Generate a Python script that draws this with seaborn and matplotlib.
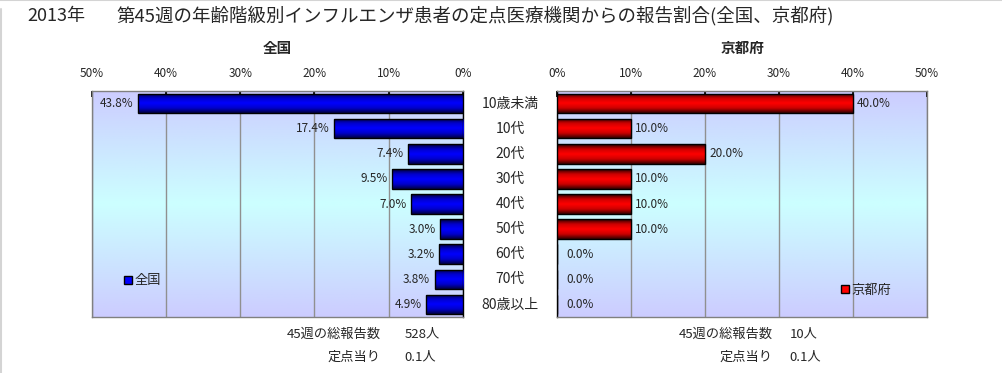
import numpy as np
import pandas as pd
import seaborn as sns
import matplotlib.pyplot as plt
from matplotlib.patches import Patch
from matplotlib.lines import Line2D
from matplotlib.ticker import PercentFormatter
from matplotlib.colors import LinearSegmentedColormap
import matplotlib.transforms as mtransforms

# データ
ages = ["10歳未満", "10代", "20代", "30代", "40代", "50代", "60代", "70代", "80歳以上"]
zenkoku = [43.8, 17.4, 7.4, 9.5, 7.0, 3.0, 3.2, 3.8, 4.9]
kyoto = [40.0, 10.0, 20.0, 10.0, 10.0, 10.0, 0.0, 0.0, 0.0]
total_zenkoku = "528人"
total_kyoto = "10人"
per_point_zenkoku = "0.1人"
per_point_kyoto = "0.1人"

sns.set_theme(style="white")
plt.rcParams["font.family"] = ["Noto Sans CJK JP", "DejaVu Sans"]

df = pd.DataFrame({"age": ages, "全国": zenkoku, "京都府": kyoto})

fig = plt.figure(figsize=(10.02, 3.73), dpi=100)
ax1 = fig.add_axes([0.0918, 0.150, 0.370, 0.606])
ax2 = fig.add_axes([0.5559, 0.150, 0.369, 0.606])

# 背景グラデーション（縦方向）
bg = LinearSegmentedColormap.from_list("bg", ["#ccccff", "#ccffff", "#ccccff"])
grad = np.linspace(0, 1, 256).reshape(-1, 1)

def bar_grad(ax, cmap):
    # 棒を立体風のグラデーションにする
    for p in list(ax.patches):
        x0, y0 = p.get_x(), p.get_y()
        w, h = p.get_width(), p.get_height()
        if w == 0:
            continue
        im = ax.imshow(grad, cmap=cmap, aspect="auto", extent=(x0, x0 + w, y0 + h, y0),
                       zorder=3, interpolation="bicubic")
        im.set_clip_path(p)
        p.set_facecolor("none")
        p.set_zorder(4)

blue = LinearSegmentedColormap.from_list("b", ["#000033", "#0000cc", "#0000ff", "#0000cc", "#000040"])
red = LinearSegmentedColormap.from_list("r", ["#200000", "#cc0000", "#ff0000", "#cc0000", "#300000"])

for ax, col, cmap, fc in [(ax1, "全国", blue, "#0000ff"), (ax2, "京都府", red, "#ff0000")]:
    ax.imshow(grad, cmap=bg, aspect="auto", extent=(0, 1, 0, 1),
              transform=ax.transAxes, zorder=0)
    sns.barplot(data=df, x=col, y="age", orient="h", color=fc, width=0.78,
                edgecolor="black", linewidth=1, ax=ax, saturation=1)
    bar_grad(ax, cmap)
    ax.set_ylim(8.5, -0.5)
    ax.xaxis.tick_top()
    ax.xaxis.set_major_formatter(PercentFormatter(decimals=0))
    ax.set_xticks([0, 10, 20, 30, 40, 50])
    ax.tick_params(axis="x", direction="in", length=4, pad=8, labelsize=8.5, color="black")
    ax.tick_params(axis="y", left=False, right=False, labelleft=False)
    ax.set_xlabel("")
    ax.set_ylabel("")
    ax.grid(axis="x", color="#909090", linewidth=1, zorder=1)
    ax.set_axisbelow(True)
    for s in ax.spines.values():
        s.set_color("#808080")
        s.set_linewidth(1)

ax1.set_xlim(50, 0)
ax2.set_xlim(0, 50)
ax1.spines["right"].set_color("black")
ax2.spines["left"].set_color("black")

# 数値ラベル
for i, v in enumerate(zenkoku):
    ax1.text(v + 0.6, i, f"{v:.1f}%", ha="right", va="center", fontsize=8.5, zorder=5)
for i, v in enumerate(kyoto):
    ax2.text(v + (0.6 if v > 0 else 1.3), i, f"{v:.1f}%", ha="left", va="center", fontsize=8.5, zorder=5)

# 年齢階級ラベル（中央）
tr = mtransforms.blended_transform_factory(fig.transFigure, ax2.transData)
for i, a in enumerate(ages):
    fig.text(0.509, 0, a, transform=tr, ha="center", va="center", fontsize=10).set_y(i)

# 凡例
ax1.legend(handles=[Patch(facecolor="#0000ff", edgecolor="black", label="全国")],
           loc="center left", bbox_to_anchor=(0.055, 0.16), frameon=False,
           handlelength=0.6, handleheight=0.6, handletextpad=0.2, fontsize=9.5)
ax2.legend(handles=[Patch(facecolor="#ff0000", edgecolor="black", label="京都府")],
           loc="center left", bbox_to_anchor=(0.735, 0.12), frameon=False,
           handlelength=0.6, handleheight=0.6, handletextpad=0.2, fontsize=9.5)

# タイトル
fig.text(0.027, 0.958, "2013年", ha="left", va="center", fontsize=13)
fig.text(0.116, 0.958, "第45週の年齢階級別インフルエンザ患者の定点医療機関からの報告割合(全国、京都府)",
         ha="left", va="center", fontsize=13.3)
fig.text(0.277, 0.871, "全国", ha="center", va="center", fontsize=10.5, fontweight="bold")
fig.text(0.741, 0.871, "京都府", ha="center", va="center", fontsize=10.5, fontweight="bold")

# 下部の報告数
fs = 9.5
fig.text(0.380, 0.104, "45週の総報告数", ha="right", va="center", fontsize=fs)
fig.text(0.404, 0.104, total_zenkoku, ha="left", va="center", fontsize=fs)
fig.text(0.380, 0.043, "定点当り", ha="right", va="center", fontsize=fs)
fig.text(0.404, 0.043, per_point_zenkoku, ha="left", va="center", fontsize=fs)
fig.text(0.771, 0.104, "45週の総報告数", ha="right", va="center", fontsize=fs)
fig.text(0.788, 0.104, total_kyoto, ha="left", va="center", fontsize=fs)
fig.text(0.771, 0.043, "定点当り", ha="right", va="center", fontsize=fs)
fig.text(0.788, 0.043, per_point_kyoto, ha="left", va="center", fontsize=fs)

# 外枠（左と上のみ）
fig.lines.append(Line2D([0.001, 0.001], [0.0, 0.975], transform=fig.transFigure,
                        color="#d4d4d4", linewidth=1.5))
fig.lines.append(Line2D([0.0, 1.0], [0.999, 0.999], transform=fig.transFigure,
                        color="#d4d4d4", linewidth=1.5))

fig.savefig("out.png", dpi=100)
